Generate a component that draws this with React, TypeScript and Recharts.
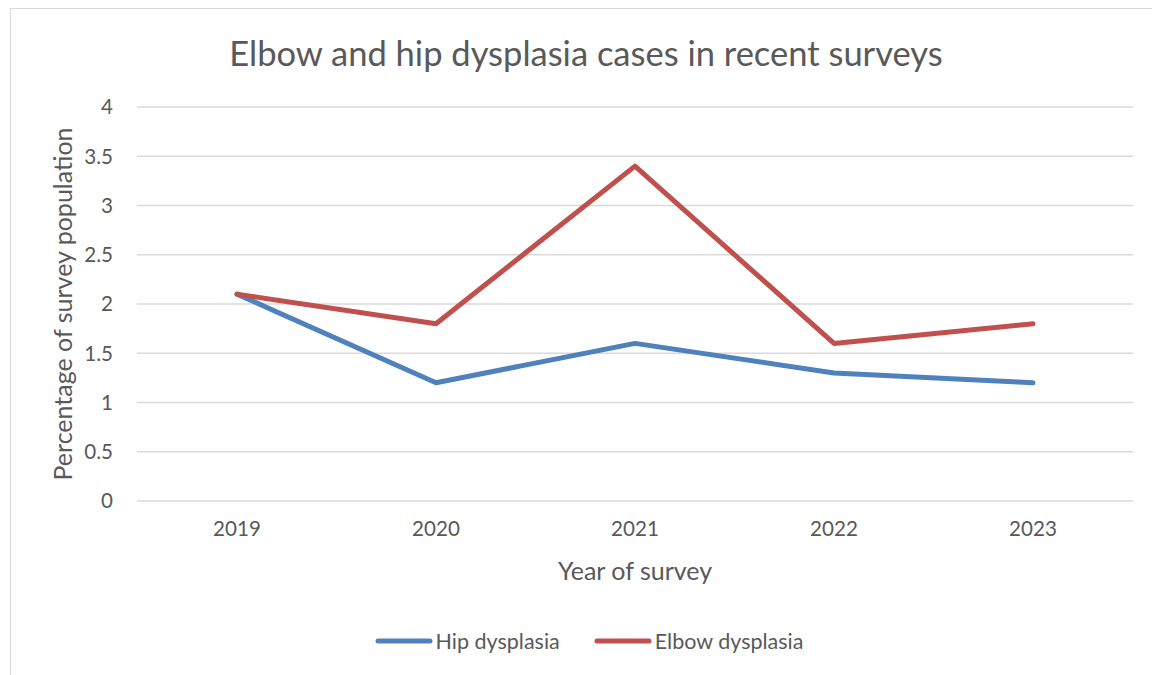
import React from "react";
import { LineChart, Line, XAxis, YAxis, CartesianGrid, Label } from "recharts";

const years = ["2019", "2020", "2021", "2022", "2023"];
const hipDysplasia = [2.1, 1.2, 1.6, 1.3, 1.2];
const elbowDysplasia = [2.1, 1.8, 3.4, 1.6, 1.8];
const yTicks = [0, 0.5, 1, 1.5, 2, 2.5, 3, 3.5, 4];
const seriesNames = ["Hip dysplasia", "Elbow dysplasia"];
const seriesColors = ["#4F81BD", "#C0504D"];

const data = years.map((y, i) => ({ year: y, hip: hipDysplasia[i], elbow: elbowDysplasia[i] }));

const FONT = "Lato, 'Open Sans', sans-serif";
const TEXT = "#595959";

export default function App() {
  return (
    <div style={{ position: "fixed", left: 10, top: 8, width: 1160, height: 690, border: "1px solid #d9d9d9", background: "#fff", boxSizing: "border-box" }}>
      <div style={{ position: "absolute", left: 0, top: 24, width: 1150, lineHeight: "40px", textAlign: "center", fontFamily: FONT, fontSize: 34.5, color: TEXT, whiteSpace: "nowrap" }}>
        Elbow and hip dysplasia cases in recent surveys
      </div>
      <LineChart
        width={1158}
        height={688}
        data={data}
        margin={{ top: 98, right: 36, bottom: 0, left: 26 }}
      >
        <CartesianGrid vertical={false} stroke="#d9d9d9" strokeWidth={1.3} />
        <XAxis
          dataKey="year"
          axisLine={false}
          tickLine={false}
          tickSize={0}
          padding={{ left: 100, right: 100 }}
          tick={{ fill: TEXT, fontSize: 20.6, fontFamily: FONT }}
          tickMargin={20}
          height={196}
        >
          <Label value="Year of survey" position="insideTop" offset={61} style={{ fill: TEXT, fontSize: 25, fontFamily: FONT }} />
        </XAxis>
        <YAxis
          domain={[0, 4]}
          ticks={yTicks}
          axisLine={false}
          tickLine={false}
          tickSize={0}
          tick={{ fill: TEXT, fontSize: 20.6, fontFamily: FONT }}
          tickMargin={24}
          width={100}
        >
          <Label
            content={(props: any) => {
              const vb = props.viewBox || {};
              const cx = vb.x + 25;
              const cy = vb.y + vb.height / 2;
              return (
                <text x={cx} y={cy} transform={`rotate(-90 ${cx} ${cy})`} textAnchor="middle" dominantBaseline="central" fill={TEXT} fontSize={25} fontFamily={FONT}>
                  Percentage of survey population
                </text>
              );
            }}
          />
        </YAxis>
        <Line type="linear" dataKey="hip" name={seriesNames[0]} stroke={seriesColors[0]} strokeWidth={5} dot={false} strokeLinejoin="round" strokeLinecap="round" isAnimationActive={false} />
        <Line type="linear" dataKey="elbow" name={seriesNames[1]} stroke={seriesColors[1]} strokeWidth={5} dot={false} strokeLinejoin="round" strokeLinecap="round" isAnimationActive={false} />
      </LineChart>
      <div style={{ position: "absolute", left: 0, top: 620, width: 1156, height: 24, display: "flex", justifyContent: "center", alignItems: "center", gap: 34, fontFamily: FONT, fontSize: 21.5, color: TEXT }}>
        {seriesNames.map((n, i) => (
          <div key={n} style={{ display: "flex", alignItems: "center" }}>
            <svg width={58} height={10} style={{ marginRight: 3 }}>
              <line x1={3} y1={5} x2={55} y2={5} stroke={seriesColors[i]} strokeWidth={5} strokeLinecap="round" />
            </svg>
            <span>{n}</span>
          </div>
        ))}
      </div>
    </div>
  );
}
